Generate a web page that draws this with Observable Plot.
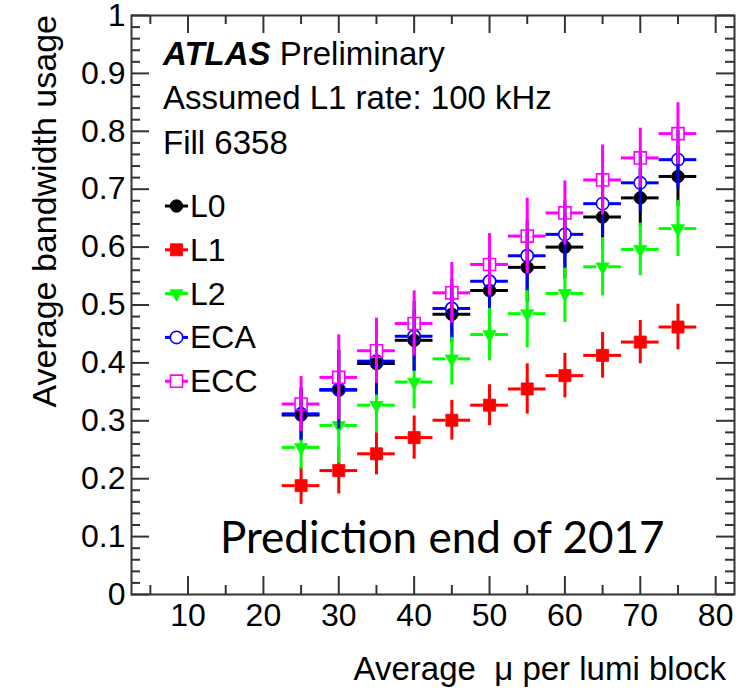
<!DOCTYPE html>
<html>
<head>
<meta charset="utf-8">
<script src="https://cdn.jsdelivr.net/npm/d3@7"></script>
<script src="https://cdn.jsdelivr.net/npm/@observablehq/plot@0.6"></script>
<style>
  html, body { margin: 0; padding: 0; background: white; }
  #chart { width: 754px; height: 693px; }
</style>
</head>
<body>
<div id="chart"></div>
<script>
// ---- data ----
const mu = [25, 30, 35, 40, 45, 50, 55, 60, 65, 70, 75];
const seriesNames = ["L0", "L1", "L2", "ECA", "ECC"];
const L0 = [0.310, 0.353, 0.399, 0.439, 0.484, 0.525, 0.565, 0.600, 0.652, 0.685, 0.722];
const L0err = [0.035, 0.058, 0.045, 0.043, 0.039, 0.037, 0.050, 0.045, 0.047, 0.040, 0.042];
const L1 = [0.188, 0.214, 0.243, 0.271, 0.301, 0.327, 0.355, 0.378, 0.413, 0.436, 0.462];
const L1err = [0.022, 0.030, 0.026, 0.027, 0.024, 0.025, 0.033, 0.028, 0.029, 0.027, 0.029];
const L2 = [0.254, 0.292, 0.327, 0.367, 0.407, 0.449, 0.485, 0.520, 0.566, 0.596, 0.632];
const L2err = [0.027, 0.055, 0.037, 0.036, 0.035, 0.035, 0.049, 0.040, 0.040, 0.035, 0.038];
const ECA = [0.312, 0.354, 0.403, 0.446, 0.494, 0.541, 0.585, 0.622, 0.675, 0.711, 0.751];
const ECAerr = [0.035, 0.058, 0.048, 0.050, 0.040, 0.035, 0.050, 0.048, 0.045, 0.040, 0.040];
const ECC = [0.329, 0.375, 0.421, 0.468, 0.521, 0.570, 0.619, 0.659, 0.716, 0.754, 0.796];
const ECCerr = [0.037, 0.063, 0.046, 0.046, 0.042, 0.043, 0.055, 0.045, 0.050, 0.041, 0.043];
const binHalfWidth = 2.5;
const xTickLabels = [10, 20, 30, 40, 50, 60, 70, 80];
const yTickLabels = [0, 0.1, 0.2, 0.3, 0.4, 0.5, 0.6, 0.7, 0.8, 0.9, 1];

const styles = {
  L0:  {color: "#000000", symbol: "circle", filled: true,  r: 6.3, rotate: 0},
  L1:  {color: "#ff0000", symbol: "square", filled: true,  r: 6.8, rotate: 0},
  L2:  {color: "#00ff00", symbol: "triangle", filled: true, r: 4.9, rotate: 180},
  ECA: {color: "#0000ff", symbol: "circle", filled: false, r: 6.2, rotate: 0},
  ECC: {color: "#ff00ff", symbol: "square", filled: false, r: 6.8, rotate: 0}
};
const valuesBy = {L0, L1, L2, ECA, ECC};
const errsBy = {L0: L0err, L1: L1err, L2: L2err, ECA: ECAerr, ECC: ECCerr};

const W = 754, H = 693;
const mL = 131, mR = 20, mT = 15, mB = 99;
const fw = W - mL - mR, fh = H - mT - mB;
const FONT = "'Liberation Sans', Arial, Helvetica, sans-serif";
const axisColor = "#333";

const marks = [];
// ticks (inward, all four sides)
const xMajor = d3.range(10, 81, 10);
const xMinor = d3.range(5, 83, 5).filter(v => v % 10 !== 0);
const yMajor = d3.range(0, 11).map(i => i / 10);
const yMinor = d3.range(0, 51).map(i => i / 50).filter((v, i) => i % 5 !== 0);
for (const [ticks, len] of [[xMajor, 18], [xMinor, 9]]) {
  marks.push(Plot.ruleX(ticks, {stroke: axisColor, strokeWidth: 2, insetTop: fh - len}));
  marks.push(Plot.ruleX(ticks, {stroke: axisColor, strokeWidth: 2, insetBottom: fh - len}));
}
for (const [ticks, len] of [[yMajor, 18], [yMinor, 9]]) {
  marks.push(Plot.ruleY(ticks, {stroke: axisColor, strokeWidth: 2, insetRight: fw - len}));
  marks.push(Plot.ruleY(ticks, {stroke: axisColor, strokeWidth: 2, insetLeft: fw - len}));
}

// series
for (const name of seriesNames) {
  const s = styles[name];
  const rows = mu.map((x, i) => ({x, v: valuesBy[name][i], e: errsBy[name][i]}));
  const gap = 6;
  const line = {stroke: s.color, strokeWidth: 3};
  marks.push(Plot.ruleY(rows, {y: "v", x1: d => d.x - binHalfWidth, x2: "x", insetRight: gap, ...line}));
  marks.push(Plot.ruleY(rows, {y: "v", x1: "x", x2: d => d.x + binHalfWidth, insetLeft: gap, ...line}));
  marks.push(Plot.ruleX(rows, {x: "x", y1: d => d.v - d.e, y2: "v", insetTop: gap, ...line}));
  marks.push(Plot.ruleX(rows, {x: "x", y1: "v", y2: d => d.v + d.e, insetBottom: gap, ...line}));
  marks.push(Plot.dot(rows, {
    x: "x", y: "v", symbol: s.symbol, r: s.r, rotate: s.rotate,
    fill: s.filled ? s.color : "none", stroke: s.color, strokeWidth: s.filled ? 0.8 : 1.6
  }));
}

marks.push(Plot.frame({stroke: axisColor, strokeWidth: 2}));
marks.push(Plot.axisX(xTickLabels, {tickSize: 0, tickPadding: 9, fontSize: 32, label: null, fill: "#000"}));
marks.push(Plot.axisY(yTickLabels, {tickSize: 0, tickPadding: 6, fontSize: 32, label: null, fill: "#000",
  tickFormat: d => String(+d.toFixed(1))}));

const chart = Plot.plot({
  width: W, height: H,
  marginLeft: mL, marginRight: mR, marginTop: mT, marginBottom: mB,
  x: {domain: [2.5, 82.5]},
  y: {domain: [0, 1]},
  style: {fontFamily: FONT, fontSize: "32px", background: "white", color: "#000", overflow: "visible"},
  marks
});

const svg = d3.select(chart);
const txt = (x, y, size, family) => svg.append("text").attr("x", x).attr("y", y)
  .attr("font-size", size).attr("font-family", family || FONT).attr("text-anchor", "start").attr("fill", "#000");
// axis titles
svg.append("text").attr("transform", "translate(56,15) rotate(-90)")
  .attr("text-anchor", "end").attr("font-size", 34).attr("font-family", FONT)
  .text("Average bandwidth usage");
svg.append("text").attr("x", 726).attr("y", 680).attr("text-anchor", "end")
  .attr("font-size", 33).attr("font-family", FONT)
  .text("Average \u00a0\u03bc per lumi block");

// ATLAS labels
const t1 = txt(163, 65, 33);
t1.append("tspan").attr("font-weight", "bold").attr("font-style", "italic").text("ATLAS");
t1.append("tspan").text(" Preliminary");
txt(163, 109, 33).text("Assumed L1 rate: 100 kHz");
txt(163, 154, 33).text("Fill 6358");

// legend
const symMap = {circle: d3.symbolCircle, square: d3.symbolSquare, triangle: d3.symbolTriangle};
seriesNames.forEach((name, i) => {
  const s = styles[name];
  const cy = 206 + i * 43.8;
  const g = svg.append("g");
  g.append("line").attr("x1", 165).attr("x2", 188).attr("y1", cy).attr("y2", cy)
    .attr("stroke", s.color).attr("stroke-width", 3);
  g.append("path").attr("d", d3.symbol(symMap[s.symbol], Math.PI * s.r * s.r)())
    .attr("transform", `translate(176.5,${cy}) rotate(${s.rotate})`)
    .attr("fill", s.filled ? s.color : "white").attr("stroke", s.color)
    .attr("stroke-width", s.filled ? 0.8 : 1.6);
  txt(190, cy + 11, 32).text(name);
});

// big annotation
txt(220, 553, 44, "Lato, 'Open Sans', sans-serif").text("Prediction end of 2017");

document.getElementById("chart").appendChild(chart);
</script>
</body>
</html>
